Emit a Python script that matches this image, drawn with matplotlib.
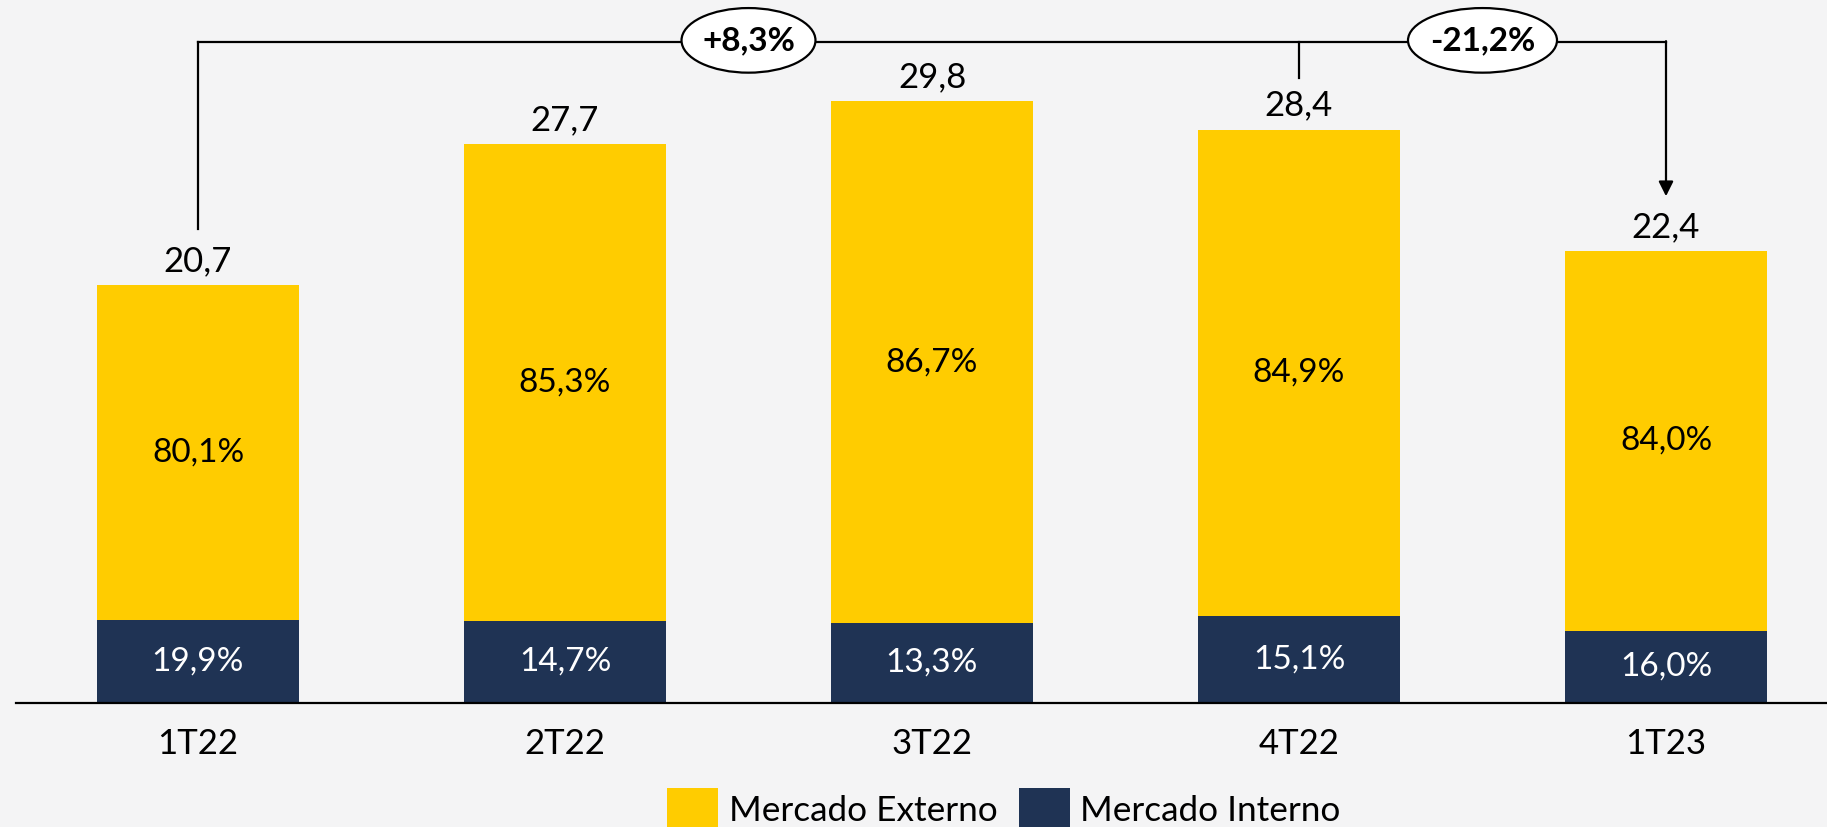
import matplotlib
matplotlib.use("Agg")
import matplotlib.pyplot as plt
from matplotlib.patches import Ellipse, Patch
import numpy as np

plt.rcParams['font.family'] = ['Lato', 'DejaVu Sans']

categories = ["1T22", "2T22", "3T22", "4T22", "1T23"]
totals = [20.7, 27.7, 29.8, 28.4, 22.4]
externo_pct = [80.1, 85.3, 86.7, 84.9, 84.0]
interno_pct = [19.9, 14.7, 13.3, 15.1, 16.0]
changes = ["+8,3%", "-21,2%"]

YELLOW = "#FFCC00"
NAVY = "#1F3354"
BG = "#F4F4F5"

W, H = 1827, 827
fig = plt.figure(figsize=(W / 100, H / 100), dpi=100)
fig.patch.set_facecolor(BG)
ax = fig.add_axes([16 / W, 124 / H, 1 - 16 / W, 703 / H])
ax.set_facecolor("none")

x = np.arange(len(categories))
tot = np.array(totals)
interno = tot * np.array(interno_pct) / 100
externo = tot * np.array(externo_pct) / 100

ax.bar(x, interno, width=0.553, color=NAVY, zorder=2)
ax.bar(x, externo, width=0.553, bottom=interno, color=YELLOW, zorder=2)

ax.set_xlim(-(198 - 16) / 367, (W - 198) / 367)
ax.set_ylim(0, 703 / 20.19)

fmt = lambda v: f"{v:.1f}".replace(".", ",")
for i in range(len(x)):
    ax.annotate(fmt(totals[i]), (x[i], tot[i]), xytext=(0, 10), textcoords="offset points",
                ha="center", va="baseline", fontsize=25, color="black")
    ax.text(x[i], interno[i] + externo[i] / 2, fmt(externo_pct[i]) + "%", ha="center", va="center",
            fontsize=24, color="black")
    ax.text(x[i], interno[i] / 2, fmt(interno_pct[i]) + "%", ha="center", va="center",
            fontsize=24, color="white")

ax.set_xticks(x)
ax.set_xticklabels(categories, fontsize=25)
ax.tick_params(axis="x", length=0, pad=18)
ax.set_yticks([])
for s in ["left", "right", "top"]:
    ax.spines[s].set_visible(False)
ax.spines["bottom"].set_linewidth(1.6)
ax.spines["bottom"].set_color("black")

# bracket annotations
ytop = 32.74
lw = 1.6
ax.plot([x[0], x[0]], [23.5, ytop], color="black", lw=lw, zorder=3)
ax.plot([x[0], x[4]], [ytop, ytop], color="black", lw=lw, zorder=3)
ax.plot([x[3], x[3]], [ytop, 30.96], color="black", lw=lw, zorder=3)
ax.annotate("", xy=(x[4], 25.1), xytext=(x[4], ytop + 0.04),
            arrowprops=dict(arrowstyle="-|>", color="black", lw=lw, mutation_scale=22,
                            shrinkA=0, shrinkB=0), zorder=3)
ell_w = [0.365, 0.406]
for cx, lab, ew in zip([1.5, 3.5], changes, ell_w):
    ax.add_patch(Ellipse((cx, ytop + 0.08), ew, 3.2, facecolor="white", edgecolor="black",
                         lw=lw, zorder=4))
    ax.text(cx, ytop + 0.08, lab, ha="center", va="center", fontsize=24, fontweight="bold", zorder=5)

handles = [Patch(facecolor=YELLOW, label="Mercado Externo"),
           Patch(facecolor=NAVY, label="Mercado Interno")]
fig.legend(handles=handles, loc="upper center", bbox_to_anchor=(1004 / W, 1 - 788 / H),
           ncol=2, frameon=False, fontsize=25.3, handlelength=1.45, handleheight=1.45,
           handletextpad=0.3, columnspacing=0.6, borderpad=0, borderaxespad=0)

fig.savefig("out.png", dpi=100, facecolor=BG)
